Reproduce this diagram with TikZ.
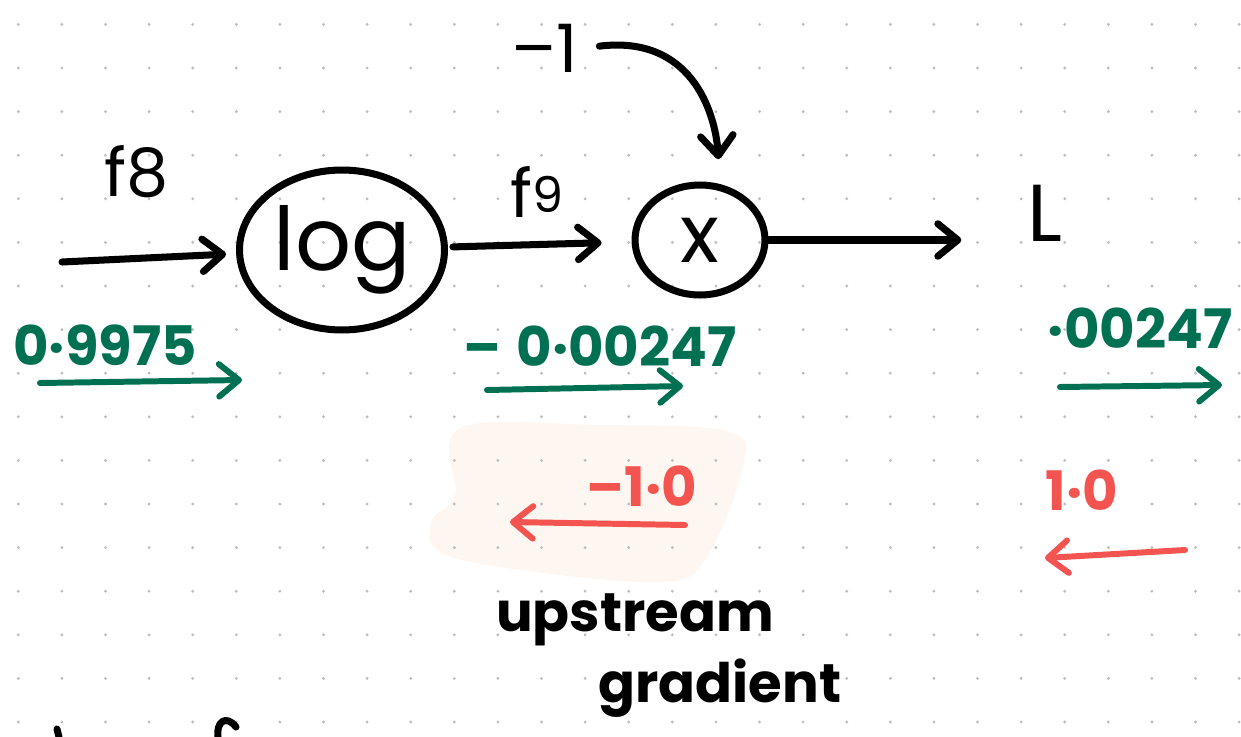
\documentclass[tikz,border=0pt]{standalone}
\usepackage{fontspec}
\setmainfont{Poppins}
\usetikzlibrary{arrows.meta,shapes.geometric}
\definecolor{inkgreen}{RGB}{0,112,82}
\definecolor{inkred}{RGB}{244,84,80}
\definecolor{peach}{RGB}{254,246,240}
\definecolor{dotgray}{RGB}{190,190,190}
\begin{document}
\begin{tikzpicture}[x=0.02cm,y=-0.02cm,
  pen/.style={line width=4pt,line cap=round,line join=round},
  penarrow/.style={pen,-{Straight Barb[length=4mm,width=6.5mm,round]}},
  gradarrow/.style={penarrow,line width=3.4pt},
  ink/.style={font=\fontsize{38}{40}\selectfont},
  gradtext/.style={font=\fontsize{31}{34}\selectfont\bfseries},
  opnode/.style={draw,pen,ellipse,inner sep=0pt}]
  \useasboundingbox (0,0) rectangle (1241,737);
  % highlighted upstream gradient
  \fill[peach] plot[smooth cycle,tension=0.6] coordinates {(460,428) (600,425) (730,432) (742,470) (705,560) (660,582) (520,570) (440,552) (432,520) (455,495)};
  % dotted paper
  \foreach \i in {0,...,28}
    \foreach \j in {0,...,16}
      \fill[dotgray] (18.3+43.6*\i,24.4+43.6*\j) circle (0.032cm);
  % forward pass
  \node (lognode) at (342,250) [opnode,minimum width=4.1cm,minimum height=3.2cm,font=\fontsize{50}{52}\selectfont] {log};
  \node (mulnode) at (700,240) [opnode,minimum width=2.6cm,minimum height=2.2cm,font=\fontsize{46}{48}\selectfont] {x};
  \node (lossnode) at (1045,213) [font=\fontsize{46}{48}\selectfont] {L};
  \node (f8label) at (137,172) [ink] {f8};
  \node (f9label) at (537,192) [ink] {f\raisebox{0.08em}{\fontsize{28}{30}\selectfont 9}};
  \node (minusone) at (545,48) [ink] {–1};
  \coordinate (f8start) at (62,262);
  \draw [penarrow,shorten >=0.2cm] (f8start) -- (lognode.182);
  \draw [penarrow,shorten <=0.1cm,shorten >=0.6cm] (lognode) -- (mulnode);
  \draw [penarrow,shorten >=1.2cm] (mulnode.east) -- (mulnode.east -| lossnode.west);
  \draw [penarrow,shorten <=0.3cm,shorten >=0.5cm] (minusone.east) .. controls (690,35) and (715,110) .. (mulnode.70);
  % local gradients
  \node (gradf8) at (105,345) [gradtext,text=inkgreen] {0·9975};
  \node (gradf9) at (600,346) [gradtext,text=inkgreen] {–\;0·00247};
  \node (gradL) at (1140,328) [gradtext,text=inkgreen] {·00247};
  \coordinate (gf8a) at (40,383);  \coordinate (gf8b) at (242,380);
  \coordinate (gf9a) at (487,390); \coordinate (gf9b) at (683,386);
  \coordinate (gLa) at (1060,387); \coordinate (gLb) at (1222,385);
  \draw [gradarrow,inkgreen] (gf8a) -- (gf8b);
  \draw [gradarrow,inkgreen] (gf9a) -- (gf9b);
  \draw [gradarrow,inkgreen] (gLa) -- (gLb);
  % upstream gradients
  \node (upf9) at (642,486) [gradtext,text=inkred] {–1·0};
  \node (upL) at (1082,490) [gradtext,text=inkred] {1·0};
  \coordinate (uf9a) at (685,525); \coordinate (uf9b) at (510,522);
  \coordinate (uLa) at (1185,550); \coordinate (uLb) at (1045,558);
  \draw [gradarrow,inkred] (uf9a) -- (uf9b);
  \draw [gradarrow,inkred] (uLa) -- (uLb);
  \node (upword) at (635,620) [gradtext] {upstream};
  \node (gradword) at (720,688) [gradtext] {gradient};
  % cut-off strokes at the bottom
  \draw [pen] (57,729) -- (59,737);
  \draw [pen] (218,737) .. controls (216,722) and (226,714) .. (236,727);
\end{tikzpicture}
\end{document}
